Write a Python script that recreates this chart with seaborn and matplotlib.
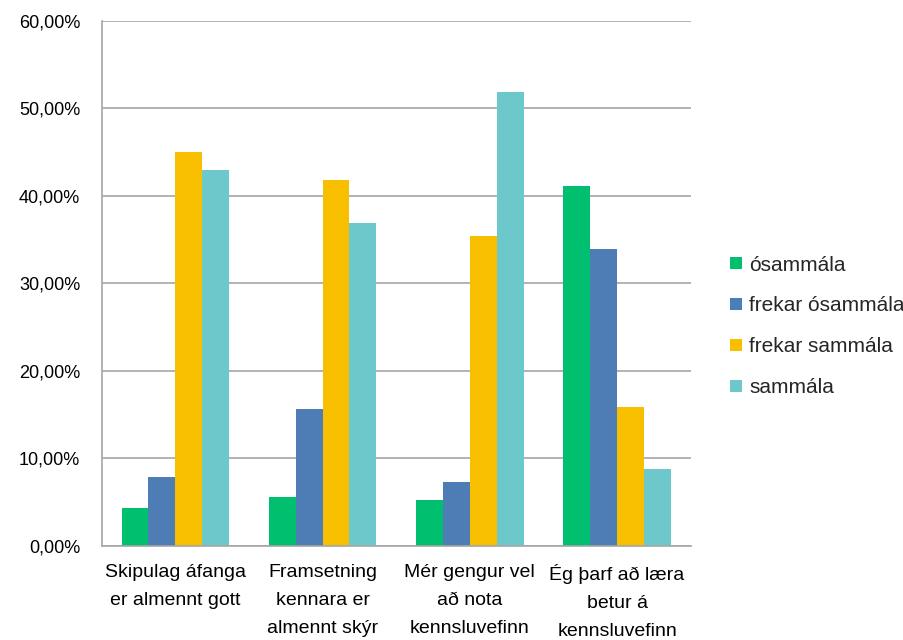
import numpy as np
import pandas as pd
import matplotlib
matplotlib.use("Agg")
import matplotlib.pyplot as plt
import seaborn as sns
from matplotlib.ticker import FuncFormatter, FixedLocator

# ──────────────────────────────────────────────
# DATOS
# ──────────────────────────────────────────────
flokkar = [
    "Skipulag áfanga\ner almennt gott",
    "Framsetning\nkennara er\nalmennt skýr",
    "Mér gengur vel\nað nota\nkennsluvefinn",
    "Ég þarf að læra\nbetur á\nkennsluvefinn",
]
svor = ["ósammála", "frekar ósammála", "frekar sammála", "sammála"]

osammala = [4.27, 5.57, 5.19, 41.1]
frekar_osammala = [7.8, 15.6, 7.3, 33.9]
frekar_sammala = [45.0, 41.8, 35.4, 15.9]
sammala = [42.9, 36.9, 51.8, 8.8]

litir = ["#00BF6F", "#4E7CB5", "#F8BE00", "#6DC8CC"]

df = pd.DataFrame({
    "flokkur": np.repeat(flokkar, 4),
    "svar": svor * len(flokkar),
    "gildi": np.ravel(np.column_stack([osammala, frekar_osammala,
                                       frekar_sammala, sammala])),
})

# ──────────────────────────────────────────────
# STÍLL
# ──────────────────────────────────────────────
sns.set_theme(style="white")
plt.rcParams["font.family"] = ["Liberation Sans", "DejaVu Sans"]
GRAY = "#A6A6A6"

fig = plt.figure(figsize=(9.04, 6.4), dpi=100)
ax = fig.add_axes([0.1125, 0.1473, 0.6515, 0.8204])

sns.barplot(data=df, x="flokkur", y="gildi", hue="svar", hue_order=svor,
            palette=litir, width=0.73, linewidth=0, saturation=1,
            ax=ax, legend=True)

ax.set_ylim(0, 60)
ax.set_xlim(-0.5, 3.5)
ax.set_yticks(np.arange(0, 61, 10))
ax.yaxis.set_major_formatter(FuncFormatter(lambda v, _: f"{v:.2f}%".replace(".", ",")))
ax.yaxis.grid(True, color=GRAY, linewidth=1.2)
ax.set_axisbelow(True)

# Ticks entre categorías (estilo Excel)
ax.xaxis.set_minor_locator(FixedLocator(np.arange(-0.5, 4.0, 1.0)))
ax.tick_params(axis="x", which="major", length=0, pad=13, labelsize=14)
ax.tick_params(axis="x", which="minor", length=6, color=GRAY, width=1.2, direction="out")
ax.tick_params(axis="y", length=5, color=GRAY, width=1.2, direction="out",
               labelsize=13, pad=10.5)
for lbl in ax.get_xticklabels():
    lbl.set_linespacing(1.85)
    lbl.set_color("#000000")
for lbl in ax.get_yticklabels():
    lbl.set_color("#000000")

for side in ["top", "right"]:
    ax.spines[side].set_visible(False)
for side in ["left", "bottom"]:
    ax.spines[side].set_color(GRAY)
    ax.spines[side].set_linewidth(1.2)

ax.set_xlabel("")
ax.set_ylabel("")

leg = ax.legend(loc="center left", bbox_to_anchor=(0.787, 0.49),
                bbox_transform=fig.transFigure, frameon=False,
                handlelength=0.55, handleheight=0.55, handletextpad=0.35,
                labelspacing=1.05, fontsize=15)

fig.savefig("out.png", dpi=100)
